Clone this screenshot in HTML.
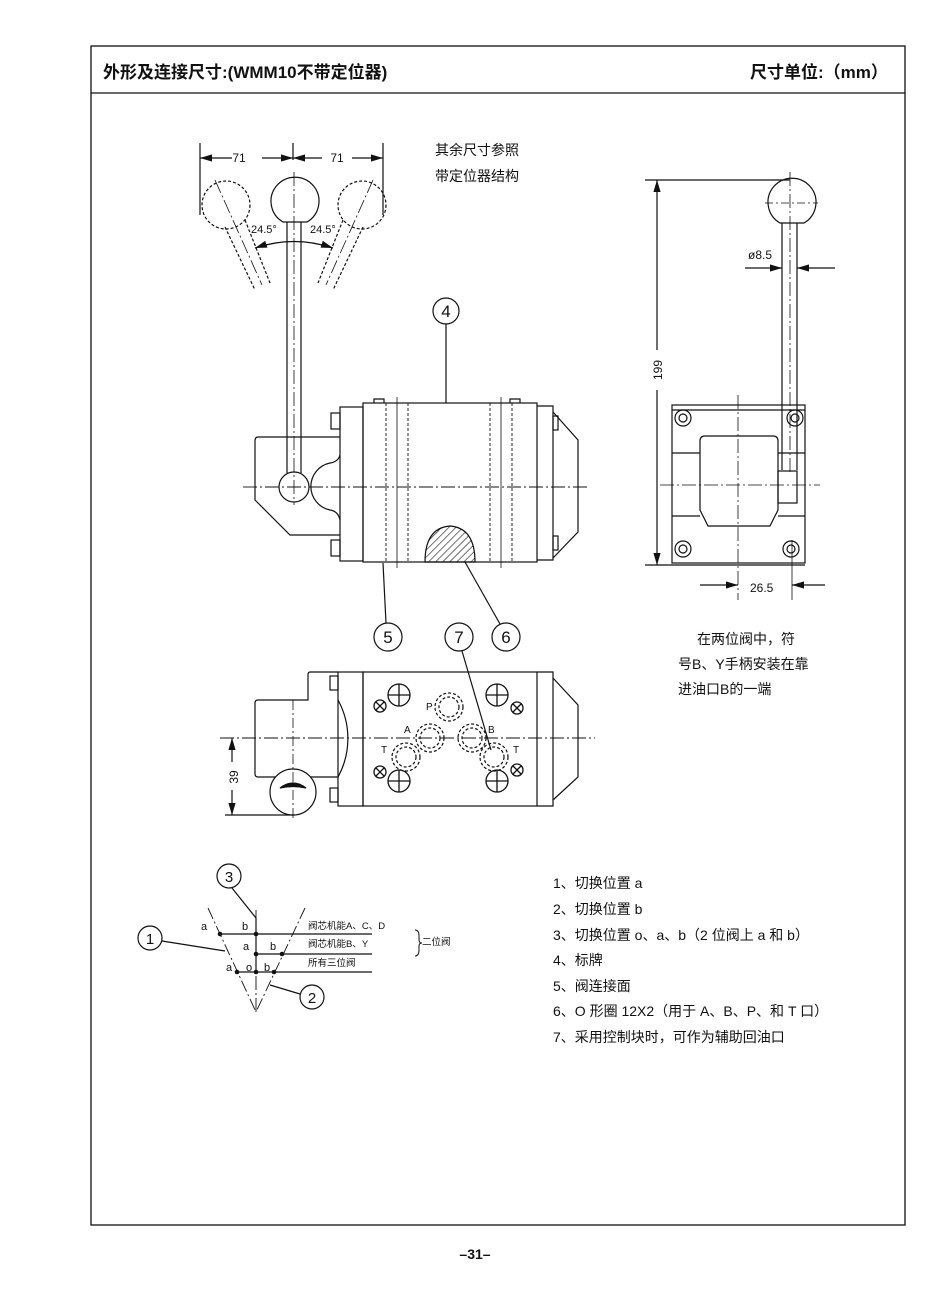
<!DOCTYPE html>
<html><head><meta charset="utf-8"><style>
body{margin:0;background:#fff;width:950px;height:1289px;overflow:hidden}
svg{display:block}
text{font-family:"Liberation Sans","Noto Sans CJK SC",sans-serif;fill:#111}
</style></head><body>
<svg width="950" height="1289" viewBox="0 0 950 1289" xmlns="http://www.w3.org/2000/svg">
<defs>
<marker id="ar" viewBox="0 0 10 6" refX="10" refY="3" markerWidth="10" markerHeight="6" orient="auto-start-reverse"><path d="M0,0L10,3L0,6z" fill="#111"/></marker>
<pattern id="h" width="5" height="5" patternUnits="userSpaceOnUse" patternTransform="rotate(45)"><line x1="0" y1="0" x2="0" y2="5" stroke="#111" stroke-width="1.2"/></pattern>
</defs>
<rect x="91" y="46" width="814" height="1179" fill="none" stroke="#111" stroke-width="1.3"/>
<line x1="91" y1="93" x2="905" y2="93" stroke="#111" stroke-width="1.3"/>
<text x="103" y="78" font-size="17" font-weight="bold">外形及连接尺寸:(WMM10不带定位器)</text>
<text x="750" y="78" font-size="17" font-weight="bold">尺寸单位:（mm）</text>

<g stroke="#111" fill="none" stroke-width="1.2">
<!-- top-left dims -->
<line x1="200" y1="143" x2="200" y2="215"/><line x1="293" y1="143" x2="293" y2="160"/><line x1="383" y1="143" x2="383" y2="215"/>
<line x1="200" y1="158" x2="232" y2="158" marker-start="url(#ar)"/><line x1="262" y1="158" x2="293" y2="158" marker-end="url(#ar)"/>
<line x1="293" y1="158" x2="322" y2="158" marker-start="url(#ar)"/><line x1="352" y1="158" x2="383" y2="158" marker-end="url(#ar)"/>
<!-- ball & lever -->
<path d="M283,222 A24,24 0 1 1 307,222 Z"/>
<line x1="287" y1="222" x2="287" y2="473"/><line x1="301" y1="222" x2="301" y2="473"/>
<line x1="294" y1="172" x2="294" y2="505" stroke-dasharray="14,3,2,3" stroke-width="0.8"/>
<circle cx="294" cy="487" r="15"/>
<g stroke-dasharray="3,2">
<circle cx="226" cy="205" r="24"/><circle cx="362" cy="205" r="24"/>
<line x1="225" y1="227" x2="255" y2="290"/><line x1="245" y1="220" x2="270" y2="283"/>
<line x1="363" y1="227" x2="333" y2="290"/><line x1="343" y1="220" x2="318" y2="283"/>
</g>
<line x1="215" y1="180" x2="262" y2="285" stroke-dasharray="14,3,2,3" stroke-width="0.8"/>
<line x1="373" y1="180" x2="326" y2="285" stroke-dasharray="14,3,2,3" stroke-width="0.8"/>
<path d="M255,248 Q294,235 333,248" marker-start="url(#ar)" marker-end="url(#ar)"/>
<!-- side body -->
<rect x="363" y="403" width="174" height="159"/>
<rect x="340" y="407" width="23" height="154"/>
<rect x="331" y="413" width="9" height="16"/><rect x="331" y="540" width="9" height="16"/>
<path d="M340,437 H258 Q255,437 255,441 V500 L290,535 H340"/>
<path d="M340,455 Q338,462 330,463 A24,24 0 0 0 330,510 Q338,511 340,520"/>
<path d="M537,406 H553 V560 H537"/><path d="M553,412 L578,440 V532 L553,558"/>
<rect x="553" y="416" width="5" height="14"/><rect x="553" y="536" width="5" height="14"/>
<path d="M374,403 v-4 h10 v4 M510,403 v-4 h10 v4"/>
<g stroke-dasharray="3,2" stroke-width="0.9"><line x1="386" y1="403" x2="386" y2="562"/><line x1="408" y1="403" x2="408" y2="562"/><line x1="490" y1="403" x2="490" y2="562"/><line x1="512" y1="403" x2="512" y2="562"/></g>
<line x1="397" y1="397" x2="397" y2="568" stroke-width="0.8"/><line x1="501" y1="397" x2="501" y2="568" stroke-width="0.8"/>
<path d="M425,562 Q425,528 450,526 Q475,528 475,562 Z" fill="url(#h)"/>
<line x1="243" y1="487" x2="590" y2="487" stroke-dasharray="14,3,2,3" stroke-width="0.9"/>
<circle cx="446" cy="311" r="13"/><line x1="446" y1="324" x2="446" y2="403"/>
<circle cx="388" cy="637" r="14"/><line x1="383" y1="563" x2="386" y2="623"/>
<circle cx="459" cy="637" r="14"/>
<circle cx="506" cy="637" r="14"/><line x1="465" y1="562" x2="500" y2="624"/>
<line x1="462" y1="651" x2="491" y2="750"/>
<!-- bottom view -->
<rect x="363" y="672" width="174" height="134"/>
<rect x="338" y="672" width="25" height="134"/>
<rect x="330" y="676" width="8" height="14"/><rect x="330" y="788" width="8" height="14"/>
<path d="M338,672 H310 Q308,672 308,675 V700 H258 Q255,700 255,703 V774 Q255,777 258,777 H338"/>
<path d="M338,700 A80,80 0 0 1 338,777"/>
<path d="M537,672 H553 V806 H537"/><path d="M553,678 L578,705 V777 L553,800"/>
<circle cx="293" cy="792" r="23" fill="#fff"/>
<path d="M280,788 Q293,778 306,788 Q293,785 280,788Z" fill="#111"/>
<line x1="220" y1="738" x2="595" y2="738" stroke-dasharray="14,3,2,3" stroke-width="0.9"/>
<line x1="293" y1="700" x2="293" y2="820" stroke-dasharray="10,3,2,3" stroke-width="0.8"/>
<line x1="225" y1="815" x2="295" y2="815"/>
<line x1="232" y1="738" x2="232" y2="762" marker-start="url(#ar)"/><line x1="232" y1="790" x2="232" y2="815" marker-end="url(#ar)"/>
<g stroke-dasharray="3,2">
<circle cx="449" cy="707" r="14"/><circle cx="449" cy="707" r="10"/>
<circle cx="430" cy="738" r="14"/><circle cx="430" cy="738" r="10"/>
<circle cx="472" cy="738" r="14"/><circle cx="472" cy="738" r="10"/>
<circle cx="406" cy="757" r="14"/><circle cx="406" cy="757" r="10"/>
<circle cx="494" cy="757" r="14"/><circle cx="494" cy="757" r="10"/>
</g>
<g stroke-width="1.3">
<circle cx="399" cy="695" r="11"/><path d="M388,695h22M399,684v22"/>
<circle cx="497" cy="695" r="11"/><path d="M486,695h22M497,684v22"/>
<circle cx="399" cy="781" r="11"/><path d="M388,781h22M399,770v22"/>
<circle cx="497" cy="781" r="11"/><path d="M486,781h22M497,770v22"/>
<circle cx="380" cy="706" r="6"/><path d="M376,702l8,8M384,702l-8,8"/>
<circle cx="517" cy="708" r="6"/><path d="M513,704l8,8M521,704l-8,8"/>
<circle cx="380" cy="772" r="6"/><path d="M376,768l8,8M384,768l-8,8"/>
<circle cx="517" cy="770" r="6"/><path d="M513,766l8,8M521,766l-8,8"/>
</g>
<!-- right view -->
<line x1="645" y1="180" x2="790" y2="180"/><line x1="645" y1="565" x2="805" y2="565"/>
<line x1="657" y1="180" x2="657" y2="350" marker-start="url(#ar)"/><line x1="657" y1="390" x2="657" y2="565" marker-end="url(#ar)"/>
<path d="M780,223 A24,24 0 1 1 804,223 Z"/>
<line x1="782" y1="223" x2="782" y2="470"/><line x1="797" y1="223" x2="797" y2="470"/>
<line x1="790" y1="172" x2="790" y2="475" stroke-dasharray="14,3,2,3" stroke-width="0.8"/>
<line x1="765" y1="203" x2="818" y2="203" stroke-dasharray="8,3,2,3" stroke-width="0.8"/>
<line x1="745" y1="268" x2="782" y2="268" marker-end="url(#ar)"/><line x1="835" y1="268" x2="797" y2="268" marker-end="url(#ar)"/>
<rect x="672" y="405" width="133" height="158"/>
<line x1="672" y1="410" x2="805" y2="410"/>
<path d="M700,441 Q700,436 705,436 H773 Q778,436 778,441 V510 L770,526 H708 L700,510 Z"/>
<line x1="672" y1="453" x2="700" y2="453"/><line x1="672" y1="516" x2="700" y2="516"/><line x1="778" y1="453" x2="805" y2="453"/><line x1="778" y1="516" x2="805" y2="516"/>
<rect x="778" y="471" width="19" height="32"/>
<circle cx="683" cy="418" r="8"/><circle cx="683" cy="418" r="4"/>
<circle cx="795" cy="418" r="8"/><circle cx="795" cy="418" r="4"/>
<circle cx="683" cy="549" r="8"/><circle cx="683" cy="549" r="4"/>
<circle cx="791" cy="549" r="8"/><circle cx="791" cy="549" r="4"/>
<line x1="660" y1="485" x2="820" y2="485" stroke-dasharray="14,3,2,3" stroke-width="0.8"/>
<line x1="738" y1="395" x2="738" y2="600" stroke-dasharray="14,3,2,3" stroke-width="0.8"/>
<line x1="792" y1="540" x2="792" y2="600" stroke-width="0.8"/>
<line x1="700" y1="585" x2="738" y2="585" marker-end="url(#ar)"/><line x1="825" y1="585" x2="792" y2="585" marker-end="url(#ar)"/>
<!-- switch diagram -->
<circle cx="229" cy="876" r="12"/><line x1="232" y1="888" x2="256" y2="918"/>
<line x1="256" y1="910" x2="256" y2="1013" stroke-dasharray="14,3,2,3" stroke-width="0.9"/>
<line x1="256" y1="918" x2="256" y2="972"/>
<line x1="208" y1="908" x2="256" y2="1012" stroke-dasharray="12,3,2,3" stroke-width="0.9"/>
<line x1="305" y1="908" x2="256" y2="1012" stroke-dasharray="12,3,2,3" stroke-width="0.9"/>
<line x1="220" y1="934" x2="372" y2="934"/><line x1="256" y1="954" x2="372" y2="954"/><line x1="236" y1="972" x2="372" y2="972"/>
<circle cx="150" cy="938" r="12"/><line x1="162" y1="941" x2="225" y2="951"/>
<circle cx="312" cy="997" r="12"/><line x1="300" y1="994" x2="270" y2="985"/>
<path d="M415,930 q4,0 4,6 v4 q0,3 3,3 q-3,0 -3,3 v4 q0,6 -4,6" stroke-width="1"/>
</g>
<g fill="#111"><circle cx="220" cy="934" r="2.3"/><circle cx="256" cy="934" r="2.3"/><circle cx="256" cy="954" r="2.3"/><circle cx="282" cy="954" r="2.3"/><circle cx="237" cy="972" r="2.3"/><circle cx="256" cy="972" r="2.3"/><circle cx="274" cy="972" r="2.3"/></g>
<g font-size="11"><text x="201" y="930">a</text><text x="242" y="930">b</text><text x="243" y="950">a</text><text x="270" y="950">b</text><text x="226" y="971">a</text><text x="246" y="971">o</text><text x="264" y="971">b</text></g>
<g font-size="9.5"><text x="308" y="929">阀芯机能A、C、D</text><text x="308" y="947">阀芯机能B、Y</text><text x="308" y="966">所有三位阀</text><text x="422" y="945">二位阀</text></g>
<g font-size="15" text-anchor="middle"><text x="229" y="882">3</text><text x="150" y="944">1</text><text x="312" y="1003">2</text></g>
<!-- labels -->
<g font-size="12"><text x="239" y="162" text-anchor="middle">71</text><text x="337" y="162" text-anchor="middle">71</text>
<text x="251" y="233" font-size="11">24.5°</text><text x="310" y="233" font-size="11">24.5°</text>
<text x="748" y="259">ø8.5</text><text x="750" y="592">26.5</text>
<text transform="translate(662,370) rotate(-90)" text-anchor="middle">199</text>
<text transform="translate(238,777) rotate(-90)" text-anchor="middle">39</text>
<text x="426" y="710" font-size="10">P</text><text x="404" y="733" font-size="10">A</text><text x="488" y="733" font-size="10">B</text><text x="381" y="753" font-size="10">T</text><text x="513" y="753" font-size="10">T</text></g>
<g font-size="17" text-anchor="middle"><text x="446" y="317">4</text><text x="388" y="643">5</text><text x="459" y="643">7</text><text x="506" y="643">6</text></g>
<g font-size="14"><text x="435" y="155">其余尺寸参照</text><text x="435" y="181">带定位器结构</text>
<text x="697" y="644">在两位阀中，符</text><text x="678" y="669">号B、Y手柄安装在靠</text><text x="678" y="694">进油口B的一端</text></g>
<g font-size="14"><text x="553" y="888">1、切换位置 a</text><text x="553" y="914">2、切换位置 b</text><text x="553" y="940">3、切换位置 o、a、b（2 位阀上 a 和 b）</text><text x="553" y="965">4、标牌</text><text x="553" y="991">5、阀连接面</text><text x="553" y="1016">6、O 形圈 12X2（用于 A、B、P、和 T 口）</text><text x="553" y="1042">7、采用控制块时，可作为辅助回油口</text></g>
<text x="475" y="1259" font-size="14" font-weight="bold" text-anchor="middle">–31–</text>
</svg>
</body></html>
